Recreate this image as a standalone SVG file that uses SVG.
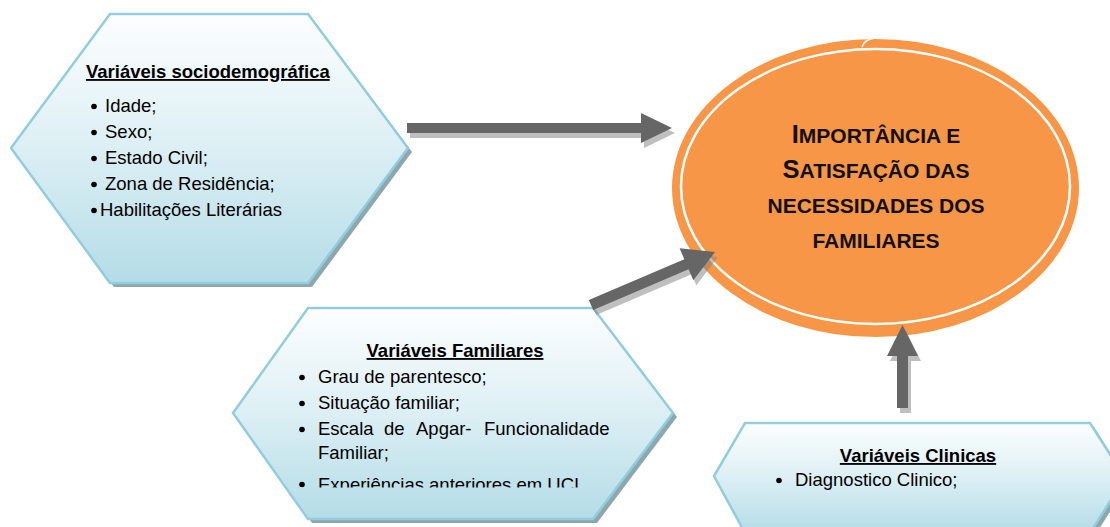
<svg xmlns="http://www.w3.org/2000/svg" width="1110" height="527" viewBox="0 0 1110 527">
  <defs>
    <linearGradient id="hexFill" x1="0" y1="0" x2="0" y2="1">
      <stop offset="0" stop-color="#fdfeff"/>
      <stop offset="0.5" stop-color="#dceff4"/>
      <stop offset="1" stop-color="#b4dce7"/>
    </linearGradient>
    <clipPath id="clipLast">
      <rect x="0" y="0" width="1110" height="487.5"/>
    </clipPath>
    <style>
      .hex { fill: url(#hexFill); stroke: #92cddc; stroke-width: 2.5; stroke-linejoin: miter; }
      .hexShadow { fill: #8ea7ae; }
      .title { font-family: "Liberation Sans", Arial, sans-serif; font-size: 18.5px; font-weight: bold; fill: #000; text-decoration: underline; }
      .item { font-family: "Liberation Sans", Arial, sans-serif; font-size: 18.5px; fill: #000; }
      .bullet { fill: #000; }
      .center { font-family: "Liberation Sans", Arial, sans-serif; font-weight: bold; fill: #111; text-anchor: middle; }
      .big { font-size: 25.5px; }
      .small { font-size: 21px; }
      .arrow { fill: #666666; }
      .arrowShadow { fill: #808080; fill-opacity: 0.5; }
    </style>
  </defs>

  <rect x="0" y="0" width="1110" height="527" fill="#ffffff"/>

  <!-- Central ellipse -->
  <g id="node-center">
    <ellipse cx="875.5" cy="188" rx="203.5" ry="149" fill="#f79646"/>
    <ellipse cx="875.5" cy="186.5" rx="194.5" ry="137.5" fill="none" stroke="#ffffff" stroke-width="2.5"/>
    <path d="M 862 47 Q 864 40 873 38.5" fill="none" stroke="#ffffff" stroke-width="1.5"/>
    <text class="center" x="876" y="143"><tspan class="big">I</tspan><tspan class="small">MPORTÂNCIA E</tspan></text>
    <text class="center" x="876" y="178"><tspan class="big">S</tspan><tspan class="small">ATISFAÇÃO DAS</tspan></text>
    <text class="center small" x="876" y="213">NECESSIDADES DOS</text>
    <text class="center small" x="876" y="248">FAMILIARES</text>
  </g>

  <!-- Sociodemographic variables -->
  <g id="node-sociodemografica">
    <polygon class="hexShadow" points="114,18 312,18 412,152 312,287 114,287 15,152"/>
    <polygon class="hex" points="110,14 308,14 408,148 308,283 110,283 11,148"/>
    <text class="title" x="86" y="78">Variáveis sociodemográfica</text>
    <circle class="bullet" cx="94" cy="106.5" r="2.8"/>
    <text class="item" x="105" y="112">Idade;</text>
    <circle class="bullet" cx="94" cy="132.5" r="2.8"/>
    <text class="item" x="105" y="138">Sexo;</text>
    <circle class="bullet" cx="94" cy="158.5" r="2.8"/>
    <text class="item" x="105" y="164">Estado Civil;</text>
    <circle class="bullet" cx="94" cy="184.5" r="2.8"/>
    <text class="item" x="105" y="190">Zona de Residência;</text>
    <circle class="bullet" cx="94" cy="210.5" r="2.8"/>
    <text class="item" x="100" y="216">Habilitações Literárias</text>
  </g>

  <!-- Family variables -->
  <g id="node-familiares">
    <polygon class="hexShadow" points="312,312 597,312 677,417 597,523 312,523 237,417"/>
    <polygon class="hex" points="308,308 593,308 673,413 593,519 308,519 233,413"/>
    <text class="title" x="455" y="357" text-anchor="middle">Variáveis Familiares</text>
    <circle class="bullet" cx="302" cy="377.5" r="2.8"/>
    <text class="item" x="318" y="383">Grau de parentesco;</text>
    <circle class="bullet" cx="302" cy="403.5" r="2.8"/>
    <text class="item" x="318" y="409">Situação familiar;</text>
    <circle class="bullet" cx="302" cy="429.5" r="2.8"/>
    <text class="item" y="435"><tspan x="318">Escala</tspan><tspan x="384">de</tspan><tspan x="416">Apgar-</tspan><tspan x="484">Funcionalidade</tspan></text>
    <text class="item" x="318" y="459">Familiar;</text>
    <g clip-path="url(#clipLast)">
      <circle class="bullet" cx="302" cy="484.5" r="2.8"/>
      <text class="item" x="318" y="491">Experiências anteriores em UCI</text>
    </g>
  </g>

  <!-- Clinical variables -->
  <g id="node-clinicas">
    <polygon class="hexShadow" points="749,427 1094,427 1129,482 1094,537 749,537 718,480"/>
    <polygon class="hex" points="745,423 1090,423 1125,478 1090,533 745,533 714,476"/>
    <text class="title" x="918" y="462" text-anchor="middle">Variáveis Clinicas</text>
    <circle class="bullet" cx="779" cy="480.5" r="2.8"/>
    <text class="item" x="795" y="486">Diagnostico Clinico;</text>
  </g>

  <!-- Connectors -->
  <g id="connectors">
    <polygon class="arrowShadow" transform="translate(3,5)" points="407,123 641,123 641,113 672,128 641,143 641,133 407,133"/>
    <polygon class="arrow" points="407,123 641,123 641,113 672,128 641,143 641,133 407,133"/>

    <polygon class="arrowShadow" transform="translate(594,310) rotate(-23.1)" points="0,-5.5 103.8,-5.5 103.8,-17.5 134.8,0 103.8,17.5 103.8,5.5 0,5.5"/>
    <polygon class="arrow" transform="translate(591,305) rotate(-23.1)" points="0,-5.5 103.8,-5.5 103.8,-17.5 134.8,0 103.8,17.5 103.8,5.5 0,5.5"/>

    <polygon class="arrowShadow" transform="translate(3,5)" points="897,408 897,356 887,356 902.5,325 918,356 908,356 908,408"/>
    <polygon class="arrow" points="897,408 897,356 887,356 902.5,325 918,356 908,356 908,408"/>
  </g>
</svg>
